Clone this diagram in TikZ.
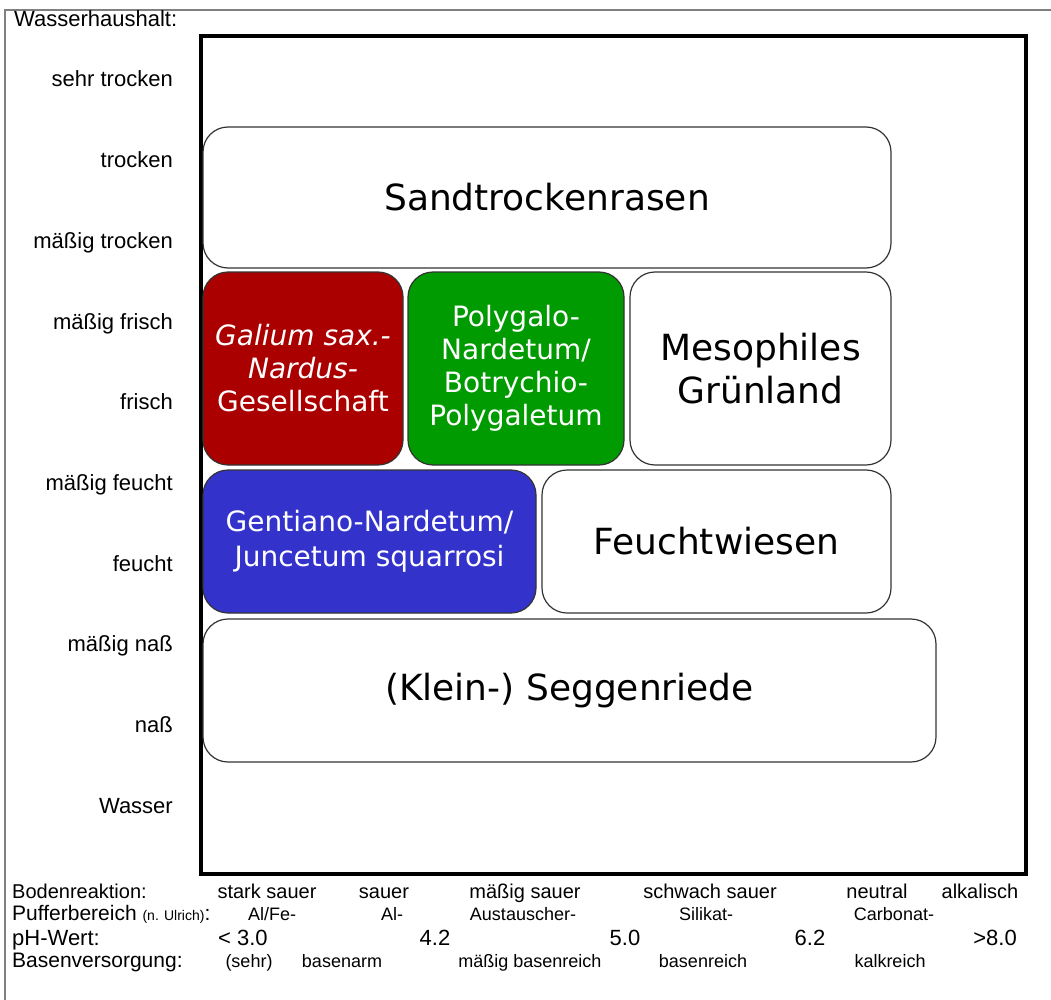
\documentclass[tikz,border=0pt]{standalone}
\usepackage{fontspec}
\setmainfont{Liberation Sans}
\newfontfamily\vegfont{DejaVu Sans}
\definecolor{galiumred}{RGB}{170,0,0}
\definecolor{polygreen}{RGB}{0,155,0}
\definecolor{gentblue}{RGB}{51,51,204}

\begin{document}
\begin{tikzpicture}[x=1pt, y=-1pt,
    veg/.style={draw=black!80, line width=1.2pt, rounded corners=25pt, align=center,
        inner sep=0pt, font=\vegfont\fontsize{36}{43}\selectfont},
    vegsmall/.style={veg, text=white, font=\vegfont\fontsize{28}{33}\selectfont},
    wlab/.style={anchor=base east, inner sep=0pt, font=\fontsize{22}{26}\selectfont},
    blab/.style={anchor=base west, inner sep=0pt, font=\fontsize{21}{25}\selectfont},
    bval/.style={anchor=base, inner sep=0pt, font=\fontsize{18}{22}\selectfont}]
    \useasboundingbox (0,0) rectangle (1051,1000);

    % Frames
    \draw[gray, line width=1.5pt] (5,1000) -- (5,10) -- (1051,10);
    \draw[line width=4pt] (200.5,36) rectangle (1025.5,874);

    % Wasserhaushalt axis
    \node[anchor=base west, inner sep=0pt, font=\fontsize{22}{26}\selectfont] (wh) at (14,27) {Wasserhaushalt:};
    \foreach \lbl [count=\i from 0] in {sehr trocken, trocken, mäßig trocken, mäßig frisch,
        frisch, mäßig feucht, feucht, mäßig naß, naß, Wasser}
        \node[wlab] (w\i) at (173, {87+80.7*\i}) {\lbl};

    % Vegetation units
    \node[veg, minimum width=688pt, minimum height=141pt] (sand) at (547,197.5) {Sandtrockenrasen};
    \node[vegsmall, fill=galiumred, minimum width=200pt, minimum height=193pt] (galium) at (303,368.5)
        {\textit{Galium sax.-}\\\textit{Nardus-}\\Gesellschaft};
    \node[vegsmall, fill=polygreen, minimum width=216pt, minimum height=193pt] (polygalo) at (516,368.5)
        {Polygalo-\\Nardetum/\\Botrychio-\\Polygaletum};
    \node[veg, minimum width=261pt, minimum height=193pt] (meso) at (760.5,368.5) {Mesophiles\\Grünland};
    \node[vegsmall, fill=gentblue, font=\vegfont\fontsize{28}{35}\selectfont,
        minimum width=333pt, minimum height=143pt] (gentiano) at (369.5,541.5)
        {Gentiano-Nardetum/\\Juncetum squarrosi};
    \node[veg, minimum width=349pt, minimum height=143pt] (feucht) at (716.5,541.5) {Feuchtwiesen};
    \node[veg, minimum width=733pt, minimum height=143pt] (segge) at (569.5,690.5) {(Klein-) Seggenriede};

    % Soil scales
    \node[blab, font=\fontsize{20}{24}\selectfont] (boden) at (12,898) {Bodenreaktion:};
    \foreach \x/\t [count=\i] in {267/stark sauer, 384/sauer, 525/mäßig sauer, 710/schwach sauer,
        877/neutral, 980/alkalisch}
        \node[bval, font=\fontsize{20}{24}\selectfont] (br\i) at (\x,898) {\t};

    \node[blab] (puffer) at (12,920) {Pufferbereich {\fontsize{14}{16}\selectfont (n. Ulrich)}:};
    \foreach \x/\t [count=\i] in {272/{Al/Fe-}, 392/Al-, 523/Austauscher-, 706/Silikat-, 894/Carbonat-}
        \node[bval] (pb\i) at (\x,920) {\t};

    \node[blab, font=\fontsize{22}{26}\selectfont] (ph) at (12,945) {pH-Wert:};
    \node[anchor=base west, inner sep=0pt, font=\fontsize{22}{26}\selectfont] (ph1) at (218,945) {< 3.0};
    \foreach \x/\t [count=\i from 2] in {435/4.2, 625/5.0, 810/6.2}
        \node[anchor=base, inner sep=0pt, font=\fontsize{22}{26}\selectfont] (ph\i) at (\x,945) {\t};
    \node[anchor=base east, inner sep=0pt, font=\fontsize{22}{26}\selectfont] (ph5) at (1017,945) {>8.0};

    \node[blab] (basen) at (12,967) {Basenversorgung:};
    \foreach \x/\t [count=\i] in {249/(sehr), 342/basenarm, 530/mäßig basenreich, 703/basenreich,
        890/kalkreich}
        \node[bval] (bv\i) at (\x,967) {\t};
\end{tikzpicture}
\end{document}
